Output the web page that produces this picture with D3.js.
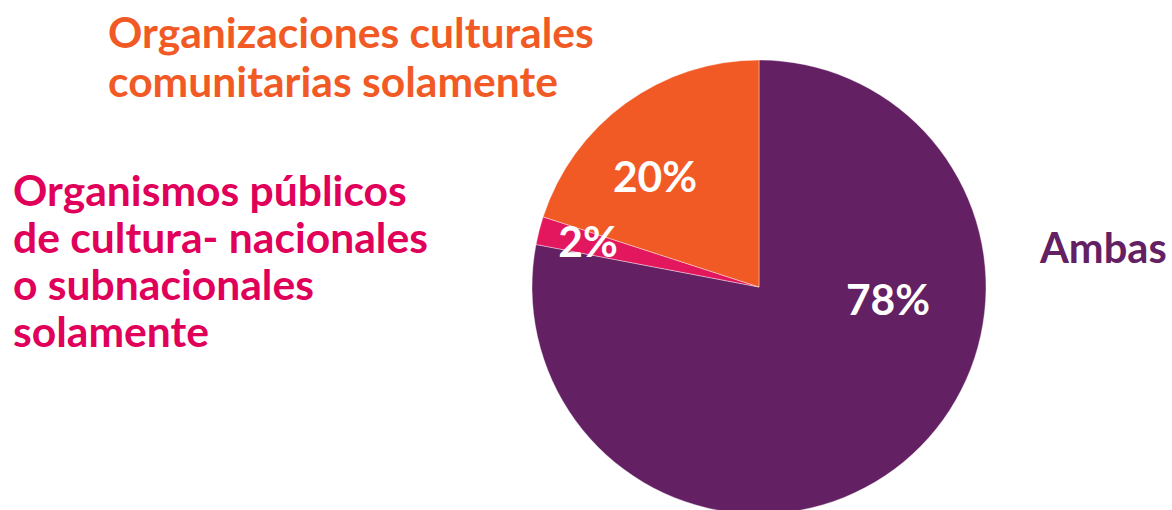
<!DOCTYPE html>
<html>
<head>
<meta charset="utf-8">
<script src="https://cdn.jsdelivr.net/npm/d3@7"></script>
<style>
  html, body { margin: 0; padding: 0; background: #fff; }
  svg { display: block; font-family: Lato, "Open Sans", sans-serif; font-weight: 700; }
</style>
</head>
<body>
<svg id="chart" width="1172" height="510"></svg>
<script>
// Slice data, in drawing order clockwise from 12 o'clock
const categories = ["Ambas", "Organismos públicos de cultura- nacionales o subnacionales solamente", "Organizaciones culturales comunitarias solamente"];
const values = [78, 2, 20];
const valueLabels = ["78%", "2%", "20%"];
const colors = ["#632163", "#E3175E", "#F15A24"];

// Category label lines
const labelLines = [
  ["Ambas"],
  ["Organismos públicos", "de cultura- nacionales", "o subnacionales", "solamente"],
  ["Organizaciones culturales", "comunitarias solamente"]
];
const labelColors = ["#632163", "#E0005A", "#F15A24"];

const svg = d3.select("#chart");
const cx = 759, cy = 287, r = 227;

const data = categories.map((c, i) => ({ name: c, value: values[i], label: valueLabels[i], color: colors[i] }));

const pie = d3.pie().sort(null).value(d => d.value);
const arc = d3.arc().innerRadius(0).outerRadius(r);
const arcs = pie(data);

const g = svg.append("g").attr("transform", `translate(${cx},${cy})`);

g.selectAll("path.slice")
  .data(arcs)
  .join("path")
  .attr("class", "slice")
  .attr("d", arc)
  .attr("fill", d => d.data.color)
  .attr("stroke", "#fff")
  .attr("stroke-width", 0.4);

// Percentage labels inside the slices (offsets from the pie centre)
const valuePos = [[129, 28], [-171, -30], [-104, -95]];
g.selectAll("text.value")
  .data(arcs)
  .join("text")
  .attr("class", "value")
  .attr("x", (d, i) => valuePos[i][0])
  .attr("y", (d, i) => valuePos[i][1])
  .attr("text-anchor", "middle")
  .attr("fill", "#fff")
  .attr("font-size", 42.5)
  .text(d => d.data.label);

// Category labels
const labelPos = [
  { x: 1040, y: 263, dy: 0, size: 41.6 },
  { x: 13, y: 206, dy: 47, size: 42.6 },
  { x: 108, y: 48, dy: 49, size: 42.6 }
];
labelLines.forEach((lines, i) => {
  const t = svg.append("text")
    .attr("fill", labelColors[i])
    .attr("font-size", labelPos[i].size);
  lines.forEach((line, j) => {
    t.append("tspan")
      .attr("x", labelPos[i].x)
      .attr("y", labelPos[i].y + j * labelPos[i].dy)
      .text(line);
  });
});
</script>
</body>
</html>
